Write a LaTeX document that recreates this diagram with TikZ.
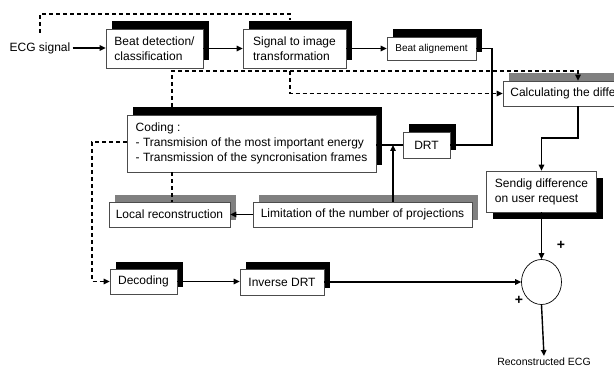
\documentclass[tikz,border=0pt]{standalone}
\usepackage{fontspec}
\setmainfont{Liberation Sans}
\usetikzlibrary{shapes.geometric,arrows.meta,shadows}
\begin{document}
\begin{tikzpicture}[x=1pt,y=-1pt,
  box/.style={draw=black!70, line width=0.6pt, fill=white, rectangle, inner sep=0pt,
    font=\fontsize{12}{15}\selectfont, align=left},
  bshadow/.style={general shadow={fill=black, shadow xshift=6pt, shadow yshift=7.5pt}},
  dshadow/.style={general shadow={fill=black, shadow xshift=6pt, shadow yshift=-7pt}},
  gshadow/.style={general shadow={fill=black!50, shadow xshift=6pt, shadow yshift=7.5pt}},
  txt/.style={font=\fontsize{12}{15}\selectfont, inner sep=2pt},
  ln/.style={line width=1.4pt},
  tip/.style={-{Triangle[length=6pt,width=5.5pt]}},
  arr/.style={ln, tip},
  dsh/.style={line width=1.3pt, dash pattern=on 4pt off 3pt},
]
\useasboundingbox (0,0) rectangle (614,369);
\clip (0,0) rectangle (614,369);

% nodes
\node[txt] (ecg) at (40,48) {ECG signal};
\node[box,bshadow,minimum width=97pt,minimum height=39pt] (bd) at (154.5,48.5) {Beat detection/\\classification};
\node[box,bshadow,minimum width=103pt,minimum height=39pt] (si) at (294.5,48.5) {Signal to image\\transformation};
\node[box,bshadow,minimum width=89pt,minimum height=23pt,font=\fontsize{10}{12}\selectfont] (ba) at (431.5,48.5) {Beat alignement};
\node[box,gshadow,minimum width=150pt,minimum height=25pt] (calc) at (578,93.5) {Calculating the difference};
\node[box,bshadow,minimum width=249pt,minimum height=57pt] (coding) at (251.5,143.5) {Coding :\\- Transmision of the most important energy\\- Transmission of the syncronisation frames};
\node[box,bshadow,minimum width=47pt,minimum height=26pt] (drt) at (426.5,145) {DRT};
\node[box,dshadow,minimum width=110pt,minimum height=41pt] (send) at (541.5,191.5) {Sendig difference\\on user request};
\node[box,gshadow,minimum width=121pt,minimum height=25pt] (local) at (169.5,214.5) {Local reconstruction};
\node[box,gshadow,minimum width=219pt,minimum height=25pt] (lim) at (362.5,214.5) {Limitation of the number of projections};
\node[box,bshadow,minimum width=67pt,minimum height=25pt] (dec) at (143.5,281.5) {Decoding};
\node[box,bshadow,minimum width=84pt,minimum height=26pt] (idrt) at (282,282) {Inverse DRT};
\node[draw=black, line width=0.7pt, ellipse, minimum width=40pt, minimum height=45pt, inner sep=0pt] (sum) at (541.5,282) {};
\node[txt,font=\fontsize{10.5}{12}\selectfont] (rec) at (544,362) {Reconstructed ECG};
\node[font=\fontsize{14}{14}\selectfont\bfseries, inner sep=0pt] (p1) at (561,245) {+};
\node[font=\fontsize{14}{14}\selectfont\bfseries, inner sep=0pt] (p2) at (519,300) {+};

% coordinates
\coordinate (e1) at (40,33);
\coordinate (t1) at (290,14);
\coordinate (t2) at (290,20);
\coordinate (sa) at (290,71);
\coordinate (j1) at (492,145);
\coordinate (j2) at (393,145);
\coordinate (k1) at (578,138);
\coordinate (cl) at (172,107);
\coordinate (cs) at (172,172);
\coordinate (cw) at (127,142);

% connectors
\draw[arr] (ecg.east) -- (ecg.east -| bd.west);
\draw[dsh] (e1) |- (t1) -- (t2);
\draw[arr] (bd.east) -- (si.west);
\draw[arr] (si.east) -- (ba.west);
\draw[ln] (ba.east) -| (j1) -- (drt.east);
\draw[ln] (drt.west) -- (drt.west -| coding.east);
\draw[arr] (lim.north -| j2) -- (j2);
\draw[arr] (lim.west) -- (local.east);
\draw[dsh] (cs) -- (cs |- local.north);
\draw[dsh] (cl) |- (sa);
\draw[dsh,tip] (sa) -| (calc.north);
\draw[dsh,tip] (sa) |- (calc.west);
\draw[arr] (calc.south) -- (k1) -| (send.north);
\draw[arr] (send.south) -- (sum.north);
\draw[dsh,tip] (cw) -- ++(-35,0) |- (dec.west);
\draw[arr] (dec.east) -- (dec.east -| idrt.west);
\draw[arr] (idrt.east) -- (sum.west);
\draw[arr] (sum.south) -- (rec.north);
\end{tikzpicture}
\end{document}
